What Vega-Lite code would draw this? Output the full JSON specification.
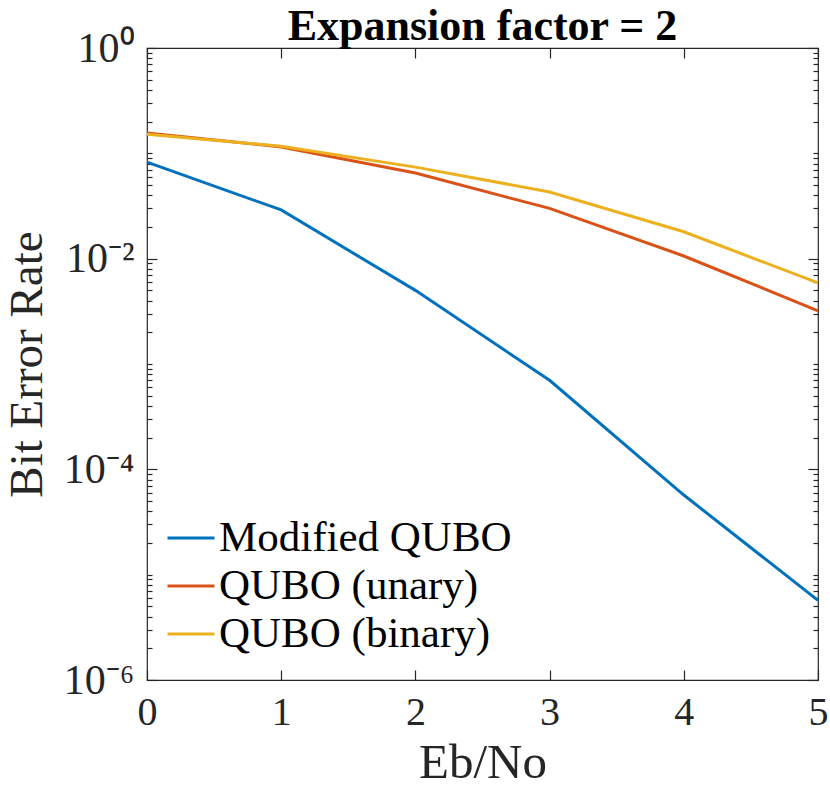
{
  "$schema": "https://vega.github.io/schema/vega-lite/v6.json",
  "width": 671,
  "height": 632,
  "autosize": {"type": "none"},
  "padding": {"left": 147, "top": 48, "right": 12, "bottom": 110},
  "background": "white",
  "config": {
    "font": "Liberation Serif",
    "view": {"stroke": "#262626", "strokeWidth": 1.2},
    "axis": {"grid": false, "domain": false, "tickColor": "#262626", "tickWidth": 1.2, "labelColor": "#262626", "titleColor": "#262626", "labelFont": "Liberation Serif", "titleFont": "Liberation Serif", "titleFontWeight": "normal"}
  },
  "title": {"text": "Expansion factor = 2", "font": "Liberation Serif", "fontSize": 44, "fontWeight": "bold", "color": "black", "anchor": "middle", "offset": 12, "dy": 34},
  "data": {
    "values": [
      {"snr": 0, "ber": 0.0826, "scheme": "Modified QUBO"},
      {"snr": 1, "ber": 0.029, "scheme": "Modified QUBO"},
      {"snr": 2, "ber": 0.005, "scheme": "Modified QUBO"},
      {"snr": 3, "ber": 0.0007, "scheme": "Modified QUBO"},
      {"snr": 4, "ber": 0.000057, "scheme": "Modified QUBO"},
      {"snr": 5, "ber": 0.0000057, "scheme": "Modified QUBO"},
      {"snr": 0, "ber": 0.156, "scheme": "QUBO (unary)"},
      {"snr": 1, "ber": 0.115, "scheme": "QUBO (unary)"},
      {"snr": 2, "ber": 0.065, "scheme": "QUBO (unary)"},
      {"snr": 3, "ber": 0.030, "scheme": "QUBO (unary)"},
      {"snr": 4, "ber": 0.0106, "scheme": "QUBO (unary)"},
      {"snr": 5, "ber": 0.0032, "scheme": "QUBO (unary)"},
      {"snr": 0, "ber": 0.152, "scheme": "QUBO (binary)"},
      {"snr": 1, "ber": 0.117, "scheme": "QUBO (binary)"},
      {"snr": 2, "ber": 0.074, "scheme": "QUBO (binary)"},
      {"snr": 3, "ber": 0.043, "scheme": "QUBO (binary)"},
      {"snr": 4, "ber": 0.018, "scheme": "QUBO (binary)"},
      {"snr": 5, "ber": 0.0059, "scheme": "QUBO (binary)"}
    ]
  },
  "layer": [
    {
      "mark": {"type": "line", "strokeWidth": 3},
      "encoding": {
        "x": {"field": "snr", "type": "quantitative",
          "scale": {"domain": [0, 5], "nice": false, "zero": false},
          "axis": {"orient": "bottom", "values": [0, 1, 2, 3, 4, 5], "format": "d", "tickSize": -10, "labelFontSize": 40, "labelPadding": 22, "labelFlush": false,
            "title": "Eb/No", "titleFontSize": 49, "titleX": 335.5, "titleY": 97, "titleBaseline": "alphabetic", "titleAlign": "center"}},
        "y": {"field": "ber", "type": "quantitative",
          "scale": {"type": "log", "domain": [0.000001, 1], "nice": false},
          "axis": {"orient": "left",
            "values": [1, 0.9, 0.8, 0.7, 0.6, 0.5, 0.4, 0.3, 0.2, 0.1, 0.09, 0.08, 0.07, 0.06, 0.05, 0.04, 0.03, 0.02, 0.01, 0.009, 0.008, 0.007, 0.006, 0.005, 0.004, 0.003, 0.002, 0.001, 0.0009, 0.0008, 0.0007, 0.0006, 0.0005, 0.0004, 0.0003, 0.0002, 0.0001, 0.00009, 0.00008, 0.00007, 0.00006, 0.00005, 0.00004, 0.00003, 0.00002, 0.00001, 0.000009, 0.000008, 0.000007, 0.000006, 0.000005, 0.000004, 0.000003, 0.000002, 0.000001],
            "labelExpr": "datum.value == 1 ? '10⁰' : datum.value == 0.01 ? '10⁻²' : datum.value == 0.0001 ? '10⁻⁴' : datum.value == 0.000001 ? '10⁻⁶' : ''",
            "tickSize": {"condition": {"test": "datum.value == 1 || datum.value == 0.01 || datum.value == 0.0001 || datum.value == 0.000001", "value": -10}, "value": -5},
            "labelFontSize": 42, "labelPadding": 23, "labelFlush": false, "labelOverlap": false, "labelBaseline": "middle",
            "title": "Bit Error Rate", "titleFontSize": 47, "titleAngle": -90, "titleX": -106, "titleY": 316, "titleBaseline": "alphabetic", "titleAlign": "center"}},
        "color": {"field": "scheme", "type": "nominal",
          "scale": {"domain": ["Modified QUBO", "QUBO (unary)", "QUBO (binary)"], "range": ["#0072BD", "#D95319", "#EDB120"]},
          "legend": {"title": null, "orient": "none", "legendX": 19, "legendY": 465, "symbolType": "stroke", "symbolSize": 2209, "symbolStrokeWidth": 3, "labelFontSize": 43, "labelFont": "Liberation Serif", "labelColor": "black", "labelOffset": 3, "rowPadding": 1, "padding": 0, "labelLimit": 500}}
      }
    },
    {
      "mark": {"type": "line", "strokeOpacity": 0},
      "encoding": {
        "x": {"field": "snr", "type": "quantitative",
          "axis": {"orient": "top", "values": [0, 1, 2, 3, 4, 5], "labels": false, "tickSize": -10, "title": null}},
        "y": {"field": "ber", "type": "quantitative",
          "axis": {"orient": "right",
            "values": [1, 0.9, 0.8, 0.7, 0.6, 0.5, 0.4, 0.3, 0.2, 0.1, 0.09, 0.08, 0.07, 0.06, 0.05, 0.04, 0.03, 0.02, 0.01, 0.009, 0.008, 0.007, 0.006, 0.005, 0.004, 0.003, 0.002, 0.001, 0.0009, 0.0008, 0.0007, 0.0006, 0.0005, 0.0004, 0.0003, 0.0002, 0.0001, 0.00009, 0.00008, 0.00007, 0.00006, 0.00005, 0.00004, 0.00003, 0.00002, 0.00001, 0.000009, 0.000008, 0.000007, 0.000006, 0.000005, 0.000004, 0.000003, 0.000002, 0.000001],
            "labels": false,
            "tickSize": {"condition": {"test": "datum.value == 1 || datum.value == 0.01 || datum.value == 0.0001 || datum.value == 0.000001", "value": -10}, "value": -5},
            "title": null}},
        "color": {"field": "scheme", "type": "nominal", "legend": null}
      }
    }
  ],
  "resolve": {"axis": {"x": "independent", "y": "independent"}}
}
